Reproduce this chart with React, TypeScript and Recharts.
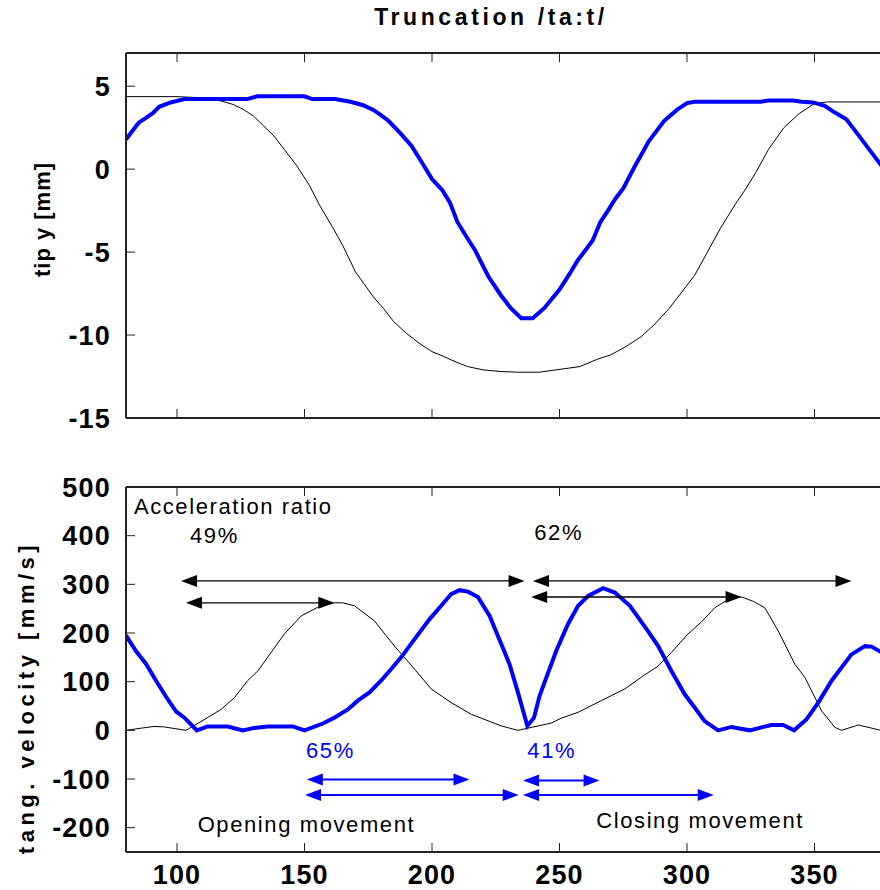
import React from 'react';
import { LineChart, Line, XAxis, YAxis, ReferenceLine, ReferenceDot } from 'recharts';

const FONT = '"Liberation Sans", Arial, sans-serif';

const xTicks = [100, 150, 200, 250, 300, 350];
const tipTicks = [-15, -10, -5, 0, 5];
const velocityTicks = [-200, -100, 0, 100, 200, 300, 400, 500];

// tip y [mm], thin black trace
const tipThinX = [80, 100, 110, 117, 122, 126, 130, 134, 138, 142, 147, 152, 156, 161, 165, 170, 177, 181, 185, 190, 195, 200, 204, 209, 214, 220, 227, 234, 242, 251, 258, 265, 270, 276, 282, 287, 293, 298, 303, 308, 313, 319, 323, 327, 332, 338, 344, 350, 355, 380];
const tipThinY = [4.37, 4.37, 4.3, 4.12, 3.9, 3.6, 3.2, 2.6, 2.0, 1.2, 0.2, -1.0, -2.2, -3.5, -4.6, -6.2, -7.7, -8.4, -9.2, -9.9, -10.5, -11.0, -11.25, -11.6, -11.9, -12.1, -12.2, -12.24, -12.24, -12.05, -11.9, -11.45, -11.2, -10.7, -10.1, -9.4, -8.4, -7.4, -6.4, -5.0, -3.6, -2.1, -1.2, -0.2, 1.2, 2.5, 3.35, 3.95, 4.05, 4.05];

// tip y [mm], thick blue trace
const tipBlueX = [80, 83, 85, 88, 90.5, 93, 97.5, 103, 127.5, 131.5, 150, 153, 162, 168, 173, 177, 180, 183, 188, 192, 197, 200, 204, 207, 210, 214, 217, 222, 227, 231, 235, 239.5, 244, 250, 254, 257, 260, 263, 266, 269, 272, 275, 279.5, 285, 291, 296, 300, 303, 329, 332, 341.5, 345, 349.5, 354, 358, 362.5, 366.5, 371, 376, 380];
const tipBlueY = [1.79, 2.4, 2.8, 3.1, 3.37, 3.76, 4.02, 4.22, 4.22, 4.39, 4.39, 4.22, 4.22, 4.06, 3.85, 3.57, 3.25, 2.9, 2.09, 1.4, 0.16, -0.6, -1.26, -2.0, -3.2, -4.2, -4.92, -6.44, -7.6, -8.4, -8.99, -8.99, -8.38, -7.26, -6.3, -5.53, -4.92, -4.3, -3.2, -2.5, -1.77, -1.16, 0.16, 1.68, 2.9, 3.57, 3.98, 4.06, 4.06, 4.14, 4.14, 4.06, 4.02, 3.82, 3.41, 3.0, 2.2, 1.28, 0.26, -0.4];

// tangential velocity [mm/s], thin black trace
const velThinX = [80, 86, 91, 95, 103.5, 109.4, 117.3, 122.5, 127.7, 131.7, 136.9, 142.1, 148.7, 155.2, 161.7, 165, 169.6, 177.4, 185.3, 193.1, 199.7, 207.5, 215.4, 227.2, 233.7, 241.6, 246.8, 250.7, 257.3, 266.4, 275.6, 283.4, 288.7, 293.9, 300.4, 305.7, 310.9, 317.4, 321.4, 326, 330.5, 335.8, 342.3, 346.3, 352.8, 358, 360.6, 367.2, 376, 380];
const velThinY = [0, 4.5, 8, 7, 0, 18, 43, 67, 102, 122, 160, 198, 235, 253, 262, 262, 256, 225, 173, 126, 85, 57, 33, 9, 0, 9, 15, 25, 37, 61, 85, 114, 132, 160, 198, 223, 252, 273, 274, 265, 252, 204, 136, 108, 40, 6, 0, 11, 0, 3];

// tangential velocity [mm/s], thick blue trace
const velBlueX = [80, 83.9, 87.8, 91.8, 95.7, 99.6, 102.9, 107.8, 112, 119.9, 125.8, 130.3, 135.6, 145.4, 150, 157.2, 161.7, 167, 170.9, 175.5, 180, 184, 187.9, 193.1, 199, 203.6, 207.5, 210.8, 214.1, 218, 222.6, 227.2, 230.4, 233.7, 237.4, 240, 242.2, 244.8, 248.7, 253.3, 257.3, 261.2, 267.1, 271.7, 277.6, 284.7, 288.7, 293.9, 299.1, 303, 306.9, 312.2, 317.4, 324.6, 333.1, 337.7, 342, 346.9, 351.5, 356.7, 364.5, 369.8, 372.4, 376.3, 380];
const velBlueY = [195, 163, 137, 102, 69, 39, 26, 0, 8, 8, 0, 5, 8, 8, 0, 14, 26, 43, 61, 78, 102, 126, 150, 187, 228, 256, 280, 288, 285, 274, 235, 177, 136, 78, 9, 26, 71, 108, 163, 218, 256, 276, 292, 283, 256, 204, 173, 122, 74, 47, 19, 0, 7, 0, 11, 11, 0, 23, 57, 102, 156, 173, 172, 160, 145];

// double arrows: [from x, to x, level]
const ratioArrows = [[101.6, 236.3, 307], [103.5, 161.7, 262], [239.6, 364.5, 307], [238.9, 321.4, 274]];
const movementArrows = [[150.9, 214.7, -101], [150.2, 234, -133], [235.7, 265.7, -103], [235.7, 310.5, -133]];

// text notes: [x, y (baseline), text, colour]
const notes: [number, number, string, string][] = [
  [83.1, 445, 'Acceleration ratio', '#000'],
  [105.1, 384, '49%', '#000'],
  [240.1, 391, '62%', '#000'],
  [150.6, -56, '65%', '#0000ff'],
  [237.4, -56, '41%', '#0000ff'],
  [108.1, -208, 'Opening movement', '#000'],
  [264.4, -200, 'Closing movement', '#000'],
];

const zip = (xs: number[], ys: number[]) => xs.map((x, i) => ({ x, y: ys[i] }));

const tickStyle = { fill: '#000', fontSize: 27, fontWeight: 'bold', fontFamily: FONT, letterSpacing: 1.2 };
const axisLine = { stroke: '#222', strokeWidth: 2 };
const tickLine = { stroke: '#222', strokeWidth: 1 };

const arrowShape = (color: string, width: number) => (p: any) => {
  const { x1, y1, x2, y2 } = p;
  const d = x2 > x1 ? 1 : -1;
  const len = 16;
  const half = 6;
  return (
    <g>
      <line x1={x1 + d * 8} y1={y1} x2={x2 - d * 8} y2={y2} stroke={color} strokeWidth={width} />
      <polygon points={`${x1},${y1} ${x1 + d * len},${y1 - half} ${x1 + d * len},${y1 + half}`} fill={color} />
      <polygon points={`${x2},${y2} ${x2 - d * len},${y2 - half} ${x2 - d * len},${y2 + half}`} fill={color} />
    </g>
  );
};

const noteShape = (text: string, color: string) => (p: any) => (
  <text x={p.cx} y={p.cy} fill={color} fontSize={22} fontFamily={FONT} letterSpacing={1.6}>
    {text}
  </text>
);

const sideTitle = (text: string, baseX: number, shiftY: number, spacing: number) => (p: any) => {
  const vb = p.viewBox;
  const cy = vb.y + vb.height / 2 + shiftY;
  return (
    <text
      x={baseX}
      y={cy}
      transform={`rotate(-90, ${baseX}, ${cy})`}
      textAnchor="middle"
      fontSize={22}
      fontWeight="bold"
      fontFamily={FONT}
      letterSpacing={spacing}
      fill="#000"
    >
      {text}
    </text>
  );
};

const blank = () => '';

export default function App() {
  return (
    <div style={{ position: 'absolute', left: 0, top: 0, width: 880, height: 890, overflow: 'hidden', background: '#fff' }}>
      <div
        style={{
          position: 'absolute',
          top: 4,
          left: 0,
          width: 982,
          textAlign: 'center',
          fontFamily: FONT,
          fontWeight: 'bold',
          fontSize: 23,
          letterSpacing: 3.6,
          color: '#000',
        }}
      >
        Truncation /ta:t/
      </div>

      <div style={{ position: 'absolute', left: 0, top: 0 }}>
        <LineChart width={891} height={440} margin={{ top: 52, right: 0, bottom: 21, left: 0 }}>
          <XAxis xAxisId="top" orientation="top" type="number" dataKey="x" domain={[80, 380]} ticks={xTicks} interval={0}
            allowDataOverflow height={1} tickSize={-9} tickFormatter={blank} axisLine={axisLine} tickLine={tickLine} />
          <XAxis type="number" dataKey="x" domain={[80, 380]} ticks={xTicks} interval={0} allowDataOverflow height={1}
            tickSize={-9} tickFormatter={blank} axisLine={axisLine} tickLine={tickLine} />
          <YAxis type="number" domain={[-15, 7]} ticks={tipTicks} interval={0} allowDataOverflow width={126} tickSize={-9}
            tickMargin={24} tick={tickStyle} axisLine={axisLine} tickLine={tickLine}
            label={{ content: sideTitle('tip y [mm]', 50, -16, 1) }} />
          <Line data={zip(tipThinX, tipThinY)} dataKey="y" type="linear" stroke="#000" strokeWidth={1} dot={false} isAnimationActive={false} />
          <Line data={zip(tipBlueX, tipBlueY)} dataKey="y" type="linear" stroke="#0000ff" strokeWidth={4} dot={false} isAnimationActive={false} />
        </LineChart>
      </div>

      <div style={{ position: 'absolute', left: 0, top: 440 }}>
        <LineChart width={891} height={450} margin={{ top: 46, right: 0, bottom: 0, left: 0 }}>
          <XAxis xAxisId="top" orientation="top" type="number" dataKey="x" domain={[80, 380]} ticks={xTicks} interval={0}
            allowDataOverflow height={1} tickSize={-9} tickFormatter={blank} axisLine={axisLine} tickLine={tickLine} />
          <XAxis type="number" dataKey="x" domain={[80, 380]} ticks={xTicks} interval={0} allowDataOverflow height={38}
            tickSize={-9} tickMargin={22} tick={tickStyle} axisLine={axisLine} tickLine={tickLine} />
          <YAxis type="number" domain={[-250, 500]} ticks={velocityTicks} interval={0} allowDataOverflow width={126} tickSize={-9}
            tickMargin={24} tick={tickStyle} axisLine={axisLine} tickLine={tickLine}
            label={{ content: sideTitle('tang. velocity [mm/s]', 34, 28, 4.5) }} />
          <Line data={zip(velThinX, velThinY)} dataKey="y" type="linear" stroke="#000" strokeWidth={1} dot={false} isAnimationActive={false} />
          <Line data={zip(velBlueX, velBlueY)} dataKey="y" type="linear" stroke="#0000ff" strokeWidth={4} dot={false} isAnimationActive={false} />
          {ratioArrows.map(([a, b, y], i) => (
            <ReferenceLine key={`r${i}`} segment={[{ x: a, y }, { x: b, y }]} shape={arrowShape('#000', 1.3)} />
          ))}
          {movementArrows.map(([a, b, y], i) => (
            <ReferenceLine key={`m${i}`} segment={[{ x: a, y }, { x: b, y }]} shape={arrowShape('#0000ff', 2)} />
          ))}
          {notes.map(([x, y, text, color], i) => (
            <ReferenceDot key={`n${i}`} x={x} y={y} r={1} shape={noteShape(text, color)} />
          ))}
        </LineChart>
      </div>
    </div>
  );
}
